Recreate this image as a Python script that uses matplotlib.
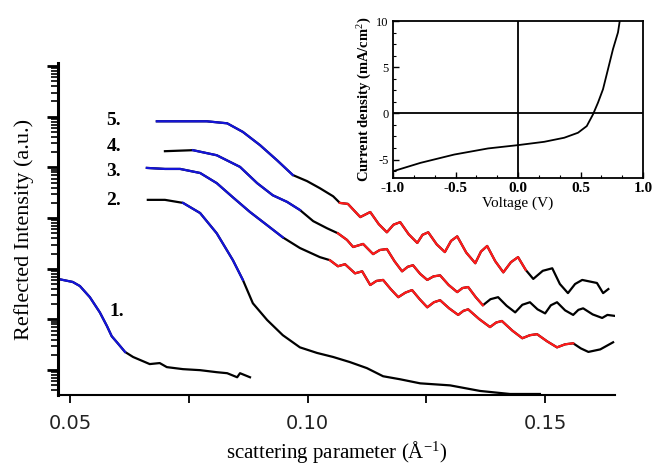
import numpy as np
import matplotlib
matplotlib.use('Agg')
import matplotlib.pyplot as plt
from matplotlib.ticker import LogLocator, NullFormatter, FixedLocator, MultipleLocator

plt.rcParams['font.family'] = ['Liberation Serif', 'DejaVu Serif']
plt.rcParams['mathtext.fontset'] = 'custom'
plt.rcParams['mathtext.rm'] = 'Liberation Serif'
plt.rcParams['mathtext.it'] = 'Liberation Serif:italic'
plt.rcParams['mathtext.bf'] = 'Liberation Serif:bold'

# reflectivity curves: q (1/A) and log10 of reflected intensity (a.u.)
q1 = [0.0475, 0.0506, 0.0521, 0.0542, 0.0563, 0.0578, 0.0588, 0.0599, 0.0616, 0.0633,
      0.0668, 0.0689, 0.0704, 0.0738, 0.0774, 0.0809, 0.0831, 0.0852, 0.0858, 0.0879]
lg1 = [-4.20, -4.26, -4.34, -4.56, -4.86, -5.13, -5.33, -5.45, -5.64, -5.74,
       -5.88, -5.86, -5.94, -5.98, -6.00, -6.04, -6.06, -6.14, -6.06, -6.14]

q2 = [0.0664, 0.0700, 0.0738, 0.0774, 0.0809, 0.0843, 0.0864, 0.0885, 0.0915, 0.0948, 0.0984,
      0.1020, 0.1054, 0.1089, 0.1125, 0.1159, 0.1195, 0.1237, 0.1300, 0.1363, 0.1426, 0.1489]
lg2 = [-2.64, -2.64, -2.70, -2.90, -3.30, -3.83, -4.22, -4.68, -5.01, -5.31, -5.55,
       -5.66, -5.74, -5.84, -5.96, -6.12, -6.18, -6.26, -6.30, -6.41, -6.47, -6.47]

q3 = [0.0662, 0.0700, 0.0732, 0.0774, 0.0809, 0.0843, 0.0879, 0.0915, 0.0948, 0.0984,
      0.1026, 0.1047, 0.1064, 0.1079, 0.1100, 0.1115, 0.1132, 0.1145, 0.1159, 0.1175,
      0.1191, 0.1206, 0.1220, 0.1236, 0.1252, 0.1266, 0.1279, 0.1298, 0.1317, 0.1328,
      0.1338, 0.1361, 0.1384, 0.1397, 0.1409, 0.1431, 0.1452, 0.1468, 0.1483, 0.1504,
      0.1525, 0.1542, 0.1559, 0.1575, 0.1591, 0.1616, 0.1643]
lg3 = [-2.01, -2.03, -2.03, -2.11, -2.31, -2.59, -2.88, -3.14, -3.38, -3.59,
       -3.77, -3.83, -3.95, -3.91, -4.09, -4.05, -4.32, -4.24, -4.22, -4.40,
       -4.56, -4.47, -4.42, -4.60, -4.76, -4.66, -4.62, -4.78, -4.91, -4.83,
       -4.80, -4.99, -5.15, -5.06, -5.03, -5.22, -5.37, -5.31, -5.29, -5.43,
       -5.55, -5.49, -5.47, -5.57, -5.64, -5.59, -5.45]

q4 = [0.0700, 0.0759, 0.0809, 0.0858, 0.0894, 0.0927, 0.0957, 0.0984, 0.1012, 0.1041,
      0.1064, 0.1083, 0.1096, 0.1117, 0.1138, 0.1152, 0.1167, 0.1183, 0.1199, 0.1211,
      0.1222, 0.1237, 0.1252, 0.1265, 0.1279, 0.1297, 0.1315, 0.1326, 0.1338, 0.1354,
      0.1369, 0.1385, 0.1401, 0.1419, 0.1437, 0.1452, 0.1468, 0.1484, 0.1500, 0.1512,
      0.1525, 0.1542, 0.1559, 0.1570, 0.1580, 0.1600, 0.1620, 0.1631, 0.1647]
lg4 = [-1.68, -1.66, -1.76, -1.99, -2.31, -2.55, -2.68, -2.84, -3.06, -3.20,
       -3.30, -3.43, -3.57, -3.51, -3.71, -3.63, -3.61, -3.85, -4.05, -3.96,
       -3.93, -4.10, -4.22, -4.15, -4.13, -4.32, -4.46, -4.38, -4.36, -4.56,
       -4.72, -4.60, -4.56, -4.73, -4.86, -4.71, -4.66, -4.80, -4.88, -4.72,
       -4.66, -4.82, -4.91, -4.81, -4.78, -4.90, -4.97, -4.91, -4.93]

q5 = [0.0683, 0.0721, 0.0788, 0.0831, 0.0864, 0.0900, 0.0936, 0.0969, 0.0999, 0.1026,
      0.1054, 0.1068, 0.1085, 0.1111, 0.1132, 0.1150, 0.1167, 0.1181, 0.1195, 0.1213,
      0.1231, 0.1242, 0.1254, 0.1272, 0.1289, 0.1302, 0.1315, 0.1334, 0.1353, 0.1365,
      0.1378, 0.1395, 0.1412, 0.1428, 0.1443, 0.1459, 0.1475, 0.1495, 0.1515, 0.1531,
      0.1548, 0.1563, 0.1578, 0.1609, 0.1622, 0.1633]
lg5 = [-1.09, -1.09, -1.09, -1.13, -1.30, -1.56, -1.86, -2.15, -2.27, -2.41,
       -2.57, -2.70, -2.72, -2.98, -2.88, -3.12, -3.28, -3.13, -3.08, -3.32,
       -3.49, -3.33, -3.28, -3.52, -3.67, -3.45, -3.36, -3.68, -3.89, -3.66,
       -3.55, -3.85, -4.07, -3.87, -3.77, -4.02, -4.20, -4.04, -3.99, -4.30,
       -4.48, -4.30, -4.22, -4.28, -4.48, -4.40]

# q ranges covered by the fits (blue: low q, red: Kiessig fringes)
blue_q = [(0.0475, 0.0616), (0.0738, 0.0864), (0.0662, 0.0948), (0.0759, 0.0984), (0.0683, 0.0984)]
red_q = [None, None, (0.1047, 0.1559), (0.1064, 0.1369), (0.1068, 0.1459)]
curve_names = ['1.', '2.', '3.', '4.', '5.']

# inset J-V curve
volt = [-1.0, -0.78, -0.51, -0.24, 0.0, 0.21, 0.37, 0.48, 0.55, 0.60, 0.64, 0.68, 0.72, 0.76, 0.80, 0.815]
jsc = [-6.27, -5.36, -4.46, -3.80, -3.44, -3.08, -2.64, -2.10, -1.38, -0.11, 1.16, 2.61, 4.78, 6.96, 8.77, 10.1]

BLUE = '#1414d8'
RED = '#ff1a1a'

W, H = 652, 468
fig = plt.figure(figsize=(W / 100, H / 100), dpi=100)
ax = fig.add_axes([58 / W, 1 - 395 / H, 557 / W, 332 / H])


def draw(q, lg, blue, red):
    q = np.array(q)
    inten = np.power(10.0, np.array(lg))
    ax.plot(q, inten, color='black', lw=1.6)
    for rng, col in ((blue, BLUE), (red, RED)):
        if rng is None:
            continue
        m = (q >= rng[0] - 1e-6) & (q <= rng[1] + 1e-6)
        ax.plot(q[m], inten[m], color=col, lw=1.6)


curves = [(q1, lg1), (q2, lg2), (q3, lg3), (q4, lg4), (q5, lg5)]
for (q, lg), b, r in zip(curves, blue_q, red_q):
    draw(q, lg, b, r)

ax.set_yscale('log')
ax.set_xlim(0.0475, 0.1647)
ax.set_ylim(10 ** -6.49, 10 ** 0.06)
ax.spines[['top', 'right']].set_visible(False)
ax.spines['left'].set_linewidth(2.2)
ax.spines['bottom'].set_linewidth(1.5)

ax.set_xticks([0.05, 0.10, 0.15])
ax.set_xticklabels(['0.05', '0.10', '0.15'], family='DejaVu Sans', fontsize=14, color='#222222')
ax.xaxis.set_minor_locator(FixedLocator([0.075, 0.125]))
ax.tick_params(axis='x', which='both', direction='out', length=6, width=1.3, pad=8)
ax.yaxis.set_major_locator(LogLocator(base=10, numticks=20))
ax.yaxis.set_minor_locator(LogLocator(base=10, subs=np.arange(2, 10), numticks=20))
ax.yaxis.set_major_formatter(NullFormatter())
ax.yaxis.set_minor_formatter(NullFormatter())
ax.tick_params(axis='y', which='major', direction='out', length=8, width=2)
ax.tick_params(axis='y', which='minor', direction='out', length=5, width=1.2)

ax.set_xlabel('scattering parameter (Å$^{-1}$)', fontsize=15, labelpad=4)
ax.set_ylabel('Reflected Intensity (a.u.)', fontsize=16, labelpad=6)

# curve numbers
label_pos = [(0.106, 0.250), (0.100, 0.587), (0.100, 0.672), (0.100, 0.747), (0.100, 0.828)]
for name, (lx, ly) in zip(curve_names, label_pos):
    ax.text(lx, ly, name, transform=ax.transAxes, fontsize=14, fontweight='bold',
            ha='center', va='center')

# inset
ax2 = fig.add_axes([393 / W, 1 - 178 / H, 250 / W, 157 / H])
ax2.plot(volt, jsc, color='black', lw=1.3)
ax2.axhline(0, color='black', lw=1.3)
ax2.axvline(0, color='black', lw=1.3)
ax2.set_xlim(-1, 1)
ax2.set_ylim(-7, 10)
for s in ax2.spines.values():
    s.set_linewidth(1.3)
ax2.set_xticks([-1.0, -0.5, 0.0, 0.5, 1.0])
ax2.set_xticklabels(['-1.0', '-0.5', '0.0', '0.5', '1.0'], fontsize=11, fontweight='bold')
ax2.set_yticks([-5, 0, 5, 10])
ax2.set_yticklabels(['-5', '0', '5', '10'], fontsize=9)
ax2.xaxis.set_minor_locator(MultipleLocator(0.5 / 3))
ax2.yaxis.set_minor_locator(MultipleLocator(1.25))
ax2.tick_params(which='major', direction='in', length=4, width=1, pad=3)
ax2.tick_params(which='minor', direction='in', length=2.5, width=0.8)
ax2.set_xlabel('Voltage (V)', fontsize=11, labelpad=1)
ax2.set_ylabel('Current density (mA/cm$^2$)', fontsize=10.5, fontweight='bold', labelpad=2)

fig.savefig('out.png', dpi=100)
